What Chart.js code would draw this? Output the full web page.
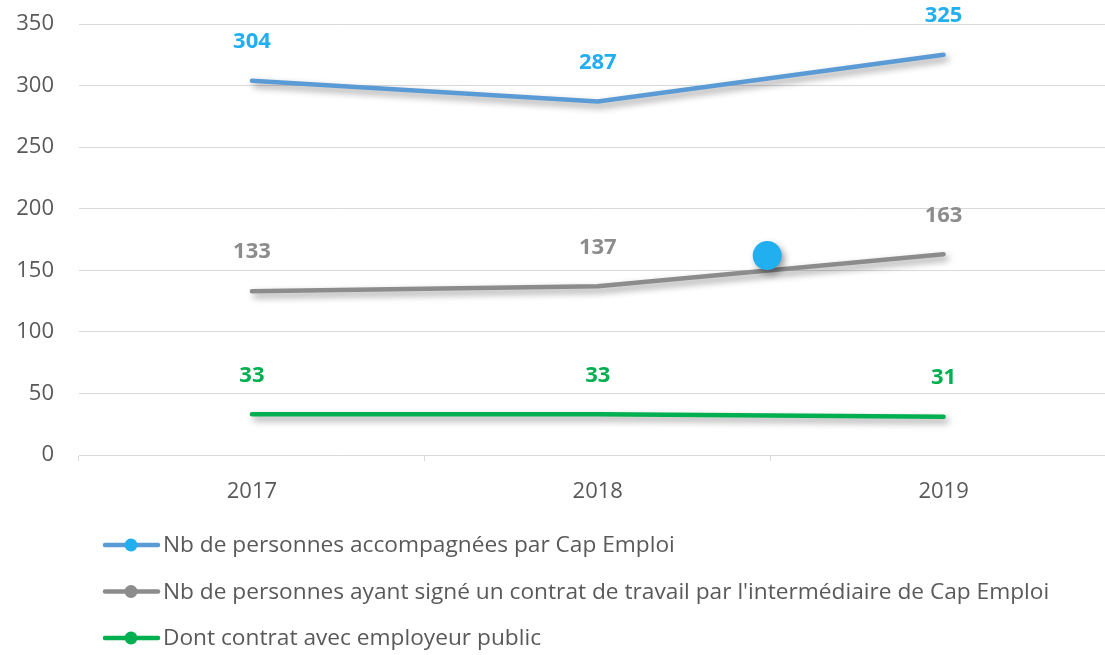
<!DOCTYPE html>
<html>
<head>
<meta charset="utf-8">
<script src="https://cdn.jsdelivr.net/npm/chart.js@4.4.1/dist/chart.umd.min.js"></script>
<style>
  html, body { margin: 0; padding: 0; overflow: hidden; background: #fff; }
</style>
</head>
<body>
<canvas id="chart" width="1131" height="655"></canvas>
<script>
// Data
const years = ['2017', '2018', '2019'];
const accompagnees = [304, 287, 325];
const contratsSignes = [133, 137, 163];
const employeurPublic = [33, 33, 31];
const seriesNames = [
  'Nb de personnes accompagnées par Cap Emploi',
  "Nb de personnes ayant signé un contrat de travail par l'intermédiaire de Cap Emploi",
  'Dont contrat avec employeur public'
];
// lone marker floating between 2018 and 2019 (index position, value)
const strayMarker = [{ x: 1.49, y: 162 }];

const FONT = '"Open Sans", "Noto Sans", sans-serif';
const TEXT_GREY = '#595959';
const GRID_GREY = '#d9d9d9';

// Drop shadow under the lines
const shadowPlugin = {
  id: 'lineShadow',
  beforeDatasetDraw(chart) {
    const ctx = chart.ctx;
    ctx.save();
    ctx.shadowColor = 'rgba(0, 0, 0, 0.4)';
    ctx.shadowBlur = 7;
    ctx.shadowOffsetX = 3;
    ctx.shadowOffsetY = 4;
  },
  afterDatasetDraw(chart) {
    chart.ctx.restore();
  }
};

// Bold value labels above each point
const valueLabels = {
  id: 'valueLabels',
  afterDatasetsDraw(chart) {
    const ctx = chart.ctx;
    ctx.save();
    ctx.font = 'bold 22px ' + FONT;
    ctx.textAlign = 'center';
    ctx.textBaseline = 'middle';
    chart.data.datasets.forEach((ds, i) => {
      if (!ds.labelColor) return;
      const meta = chart.getDatasetMeta(i);
      ctx.fillStyle = ds.labelColor;
      meta.data.forEach((pt, j) => {
        ctx.fillText(String(ds.data[j]), pt.x, pt.y - 39);
      });
    });
    ctx.restore();
  }
};

// Vertical legend with line + dot markers
const stackedLegend = {
  id: 'stackedLegend',
  afterDraw(chart) {
    const ctx = chart.ctx;
    const top = chart.chartArea.bottom + 90;
    ctx.save();
    ctx.font = '22.7px ' + FONT;
    ctx.textBaseline = 'middle';
    ctx.textAlign = 'left';
    let row = 0;
    chart.data.datasets.forEach(ds => {
      if (!ds.labelColor) return;
      const y = top + row * 46.5;
      ctx.strokeStyle = ds.borderColor;
      ctx.lineWidth = 4.5;
      ctx.lineCap = 'round';
      ctx.beginPath();
      ctx.moveTo(105, y);
      ctx.lineTo(158, y);
      ctx.stroke();
      ctx.fillStyle = ds.pointBackgroundColor;
      ctx.beginPath();
      ctx.arc(131, y, 6.5, 0, Math.PI * 2);
      ctx.fill();
      ctx.fillStyle = TEXT_GREY;
      ctx.fillText(ds.label, 163, y + 1);
      row++;
    });
    ctx.restore();
  }
};

function lineSeries(label, data, color, dotColor, labelColor) {
  return {
    label: label,
    data: data,
    borderColor: color,
    borderWidth: 4.5,
    borderCapStyle: 'round',
    borderJoinStyle: 'round',
    pointRadius: 0,
    pointHoverRadius: 0,
    pointBackgroundColor: dotColor,
    labelColor: labelColor,
    tension: 0,
    fill: false
  };
}

new Chart(document.getElementById('chart'), {
  type: 'line',
  data: {
    labels: years,
    datasets: [
      lineSeries(seriesNames[0], accompagnees, '#5b9bd5', '#21aff0', '#21aff0'),
      lineSeries(seriesNames[1], contratsSignes, '#8c8c8c', '#8c8c8c', '#8c8c8c'),
      lineSeries(seriesNames[2], employeurPublic, '#00b050', '#00b050', '#00b050'),
      {
        label: '',
        data: strayMarker,
        xAxisID: 'x2',
        showLine: false,
        pointRadius: 14.5,
        pointHoverRadius: 14.5,
        pointBackgroundColor: '#21aff0',
        pointBorderWidth: 0,
        order: -1
      }
    ]
  },
  options: {
    responsive: false,
    animation: false,
    events: [],
    layout: { padding: { top: 24, left: 1, right: 6, bottom: 0 } },
    plugins: {
      legend: { display: false },
      tooltip: { enabled: false }
    },
    scales: {
      x: {
        offset: true,
        grid: {
          offset: true,
          drawOnChartArea: false,
          drawTicks: true,
          tickLength: 6,
          color: GRID_GREY
        },
        border: { display: true, color: GRID_GREY, width: 1 },
        ticks: { color: TEXT_GREY, font: { family: FONT, size: 22 }, padding: 18 },
        afterFit(scale) { scale.height = 200; }
      },
      x2: {
        type: 'linear',
        min: -0.5,
        max: 2.5,
        display: false
      },
      y: {
        min: 0,
        max: 350,
        ticks: { stepSize: 50, color: TEXT_GREY, font: { family: FONT, size: 22 }, padding: 25 },
        grid: { color: GRID_GREY, drawTicks: false },
        border: { display: false },
        afterFit(scale) {
          scale.width = 78;
          scale.paddingTop = 0;
          scale.paddingBottom = 0;
        }
      }
    }
  },
  plugins: [shadowPlugin, valueLabels, stackedLegend]
});
</script>
</body>
</html>
